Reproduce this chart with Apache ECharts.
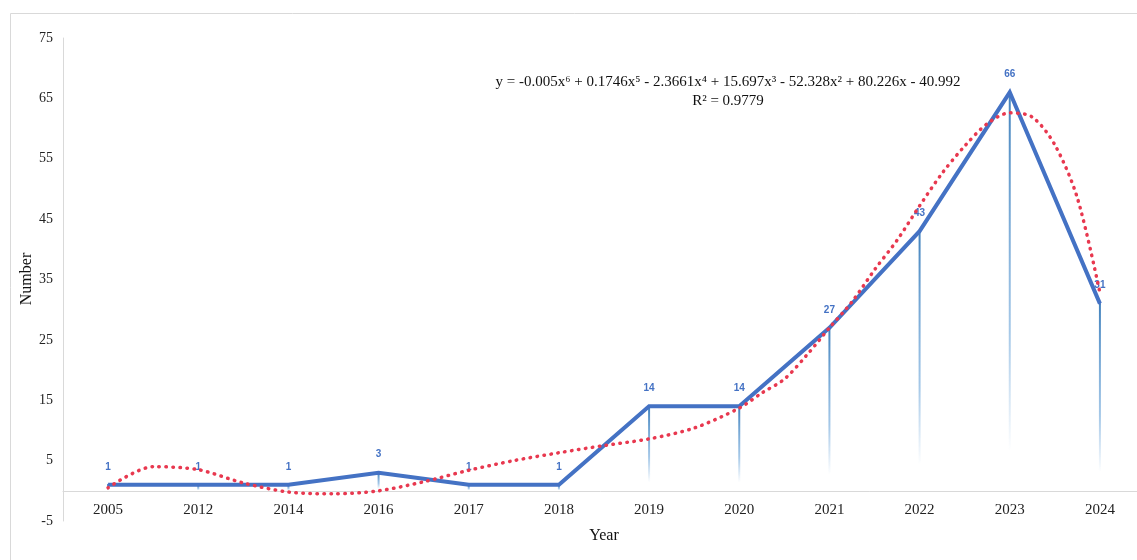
<!DOCTYPE html>
<html>
<head>
<meta charset="utf-8">
<script src="https://cdn.jsdelivr.net/npm/echarts@6/dist/echarts.min.js"></script>
<style>html,body{margin:0;padding:0;background:#fff}#c{width:1137px;height:560px}</style>
</head>
<body>
<div id="c"></div>
<script>
const years = ['2005','2012','2014','2016','2017','2018','2019','2020','2021','2022','2023','2024'];
const counts = [1,1,1,3,1,1,14,14,27,43,66,31];
// trendline: [position (1 = first year), value]
const trendX = [1,1.5,2,2.5,3,3.5,4,4.5,5,5.5,6,6.5,7,7.5,8,8.25,8.5,8.75,9,9.25,9.5,9.75,10,10.25,10.5,10.75,11,11.25,11.5,11.75,12];
const trendY = [0.5,4.0,3.5,1.3,-0.2,-0.5,0.0,1.5,3.4,5.0,6.3,7.5,8.6,10.4,13.7,16.2,18.5,22.5,27,31.3,36.6,41.5,47.2,52.6,57.1,60.8,62.6,61.9,57.3,48.5,32.8];
const equation = 'y = -0.005x⁶ + 0.1746x⁵ - 2.3661x⁴ + 15.697x³ - 52.328x² + 80.226x - 40.992';
const rSquared = 'R² = 0.9779';
const yTitle = 'Number';
const xTitle = 'Year';

const chart = echarts.init(document.getElementById('c'));
const serif = 'Liberation Serif, Times New Roman, serif';
chart.setOption({
  animation: false,
  grid: {left: 63, top: 38, width: 1082, height: 483, containLabel: false, outerBoundsMode: 'none'},
  graphic: [
    {type: 'rect', shape: {x: 10.5, y: 13.5, width: 1200, height: 600}, style: {fill: 'none', stroke: '#d9d9d9', lineWidth: 1}, z: -1},
    {type: 'text', x: 728, y: 82, style: {text: equation, font: '15px ' + serif, fill: '#111', textAlign: 'center', textVerticalAlign: 'middle'}},
    {type: 'text', x: 728, y: 101, style: {text: rSquared, font: '15px ' + serif, fill: '#111', textAlign: 'center', textVerticalAlign: 'middle'}},
    {type: 'text', x: 27, y: 279, rotation: Math.PI / 2, style: {text: yTitle, font: '16px ' + serif, fill: '#111', textAlign: 'center', textVerticalAlign: 'middle'}}
  ],
  xAxis: [
    {type: 'category', data: years, boundaryGap: true,
     axisLine: {onZero: true, lineStyle: {color: '#d9d9d9', width: 1}},
     axisTick: {show: false},
     axisLabel: {color: '#222', fontFamily: serif, fontSize: 15, margin: -18},
     name: xTitle, nameLocation: 'middle', nameGap: 7,
     nameTextStyle: {color: '#111', fontFamily: serif, fontSize: 16},
     splitLine: {show: false}},
    {type: 'value', min: 0.5, max: 12.5, show: false}
  ],
  yAxis: {type: 'value', min: -5, max: 75, interval: 5,
    axisLine: {show: true, lineStyle: {color: '#d9d9d9', width: 1}},
    axisTick: {show: false}, splitLine: {show: false},
    axisLabel: {color: '#222', fontFamily: serif, fontSize: 14, margin: 10,
      formatter: v => (Math.round(v) % 10 === 0 ? '' : String(v))}
  },
  series: [
    {type: 'bar', xAxisIndex: 0, data: counts, barWidth: 2, z: 1, silent: true,
     itemStyle: {color: new echarts.graphic.LinearGradient(0, 0, 0, 1, [
       {offset: 0, color: 'rgba(46,117,182,0.9)'},
       {offset: 0.6, color: 'rgba(91,155,213,0.55)'},
       {offset: 0.9, color: 'rgba(91,155,213,0)'},
       {offset: 1, color: 'rgba(91,155,213,0)'}])}},
    {type: 'line', xAxisIndex: 0, data: counts, z: 3,
     symbol: 'circle', symbolSize: 2, itemStyle: {color: '#4472c4'},
     lineStyle: {color: '#4472c4', width: 4, join: 'miter'},
     label: {show: true, position: 'top', distance: 12, color: '#4472c4', fontWeight: 'bold', fontSize: 10, fontFamily: 'Liberation Sans, Arial, sans-serif'}},
    {type: 'line', xAxisIndex: 1, data: trendX.map((x, i) => [x, trendY[i]]), z: 4,
     smooth: 0.3, showSymbol: false, symbol: 'none',
     lineStyle: {color: '#e8384f', width: 3.5, type: [0.5, 6.5], cap: 'round'}}
  ]
});
</script>
</body>
</html>
